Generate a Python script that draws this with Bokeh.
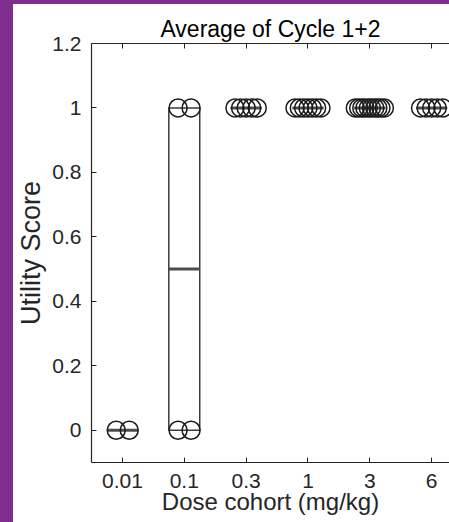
import numpy as np
from bokeh.plotting import figure
from bokeh.models import FixedTicker, LinearAxis, Spacer, Range1d
from bokeh.layouts import row, column
from bokeh.embed import file_html
from bokeh.resources import INLINE

# ---- data ----
cohorts = ["0.01", "0.1", "0.3", "1", "3", "6"]
scores_001 = [0, 0]
scores_01 = [0, 0, 1, 1]
scores_03 = [1, 1, 1, 1, 1]
scores_1 = [1, 1, 1, 1, 1, 1, 1]
scores_3 = [1, 1, 1, 1, 1, 1, 1, 1, 1, 1]
scores_6 = [1, 1, 1, 1, 1]
jitter_001 = [-0.1, 0.11]
jitter_01 = [-0.1, 0.11, -0.1, 0.11]
jitter_03 = [-0.18, -0.09, 0.0, 0.09, 0.18]
jitter_1 = [-0.21, -0.14, -0.07, 0.0, 0.07, 0.14, 0.21]
jitter_3 = [-0.235, -0.18, -0.13, -0.08, -0.025, 0.025, 0.08, 0.13, 0.18, 0.235]
jitter_6 = [-0.18, -0.09, 0.0, 0.09, 0.18]
y_ticks = [0, 0.2, 0.4, 0.6, 0.8, 1.0, 1.2]
y_tick_labels = ["0", "0.2", "0.4", "0.6", "0.8", "1", "1.2"]
title_text = "Average of Cycle 1+2"
x_label = "Dose cohort (mg/kg)"
y_label = "Utility Score"

all_scores = [scores_001, scores_01, scores_03, scores_1, scores_3, scores_6]
all_jitter = [jitter_001, jitter_01, jitter_03, jitter_1, jitter_3, jitter_6]

# ---- styling ----
FONT = "Liberation Sans"
TXT = "#262626"
PURPLE = "#7e2f8e"
BOX_W = 0.5

p = figure(width=436, height=518, x_range=Range1d(0.5, 6.288), y_range=Range1d(-0.1, 1.2),
           output_backend="svg", toolbar_location=None,
           min_border_left=76, min_border_right=0, min_border_top=39, min_border_bottom=60,
           background_fill_color="white", border_fill_color="white", outline_line_color=None)
p.xgrid.visible = False
p.ygrid.visible = False

positions = list(range(1, len(cohorts) + 1))

# boxes
q1 = [float(np.percentile(s, 25)) for s in all_scores]
q3 = [float(np.percentile(s, 75)) for s in all_scores]
med = [float(np.median(s)) for s in all_scores]
left = [x - BOX_W / 2 for x in positions]
right = [x + BOX_W / 2 for x in positions]
p.quad(left=left, right=right, bottom=q1, top=q3, fill_color=None,
       line_color="#3a3a3a", line_width=1.5)
p.segment(x0=left, x1=right, y0=med, y1=med, line_color="#4d4d4d", line_width=3)

# points
px, py = [], []
for xpos, s, j in zip(positions, all_scores, all_jitter):
    for v, d in zip(s, j):
        px.append(xpos + d)
        py.append(v)
p.scatter(px, py, marker="circle", size=18, fill_color=None,
          line_color="#1a1a1a", line_width=1.5)

# axes
for ax in (p.xaxis[0], p.yaxis[0]):
    ax.axis_line_color = TXT
    ax.axis_line_width = 1.2
    ax.major_tick_line_color = TXT
    ax.major_tick_in = 5
    ax.major_tick_out = 0
    ax.minor_tick_line_color = None
    ax.major_label_text_font = FONT
    ax.major_label_text_font_size = "21px"
    ax.major_label_text_color = TXT
    ax.axis_label_text_font = FONT
    ax.axis_label_text_font_style = "normal"
    ax.axis_label_text_color = TXT

p.xaxis[0].ticker = FixedTicker(ticks=positions)
p.xaxis[0].major_label_overrides = {x: c for x, c in zip(positions, cohorts)}
p.xaxis[0].major_label_standoff = 11
p.xaxis[0].axis_label = x_label
p.xaxis[0].axis_label_text_font_size = "24px"
p.xaxis[0].axis_label_standoff = -3

p.yaxis[0].ticker = FixedTicker(ticks=y_ticks)
p.yaxis[0].major_label_overrides = {t: l for t, l in zip(y_ticks, y_tick_labels)}
p.yaxis[0].major_label_standoff = 10
p.yaxis[0].axis_label = y_label
p.yaxis[0].axis_label_text_font_size = "27px"
p.yaxis[0].axis_label_standoff = 3

top_ax = LinearAxis(ticker=FixedTicker(ticks=positions), major_label_text_font_size="0px",
                    axis_line_color=TXT, axis_line_width=1.2, major_tick_line_color=TXT,
                    major_tick_in=5, major_tick_out=0, minor_tick_line_color=None,
                    major_label_standoff=0)
top_ax.major_label_overrides = {x: "" for x in positions}
p.add_layout(top_ax, "above")

p.title.text = title_text
p.title.align = "center"
p.title.offset = 6
p.title.standoff = 3
p.title.text_font = FONT
p.title.text_font_size = "23px"
p.title.text_font_style = "normal"
p.title.text_color = "black"

top_strip = Spacer(width=449, height=4, styles={"background-color": PURPLE})
left_strip = Spacer(width=13, height=518, styles={"background-color": PURPLE})
layout = column(top_strip, row(left_strip, p), spacing=0)

open("out.html", "w").write(file_html(layout, INLINE))
